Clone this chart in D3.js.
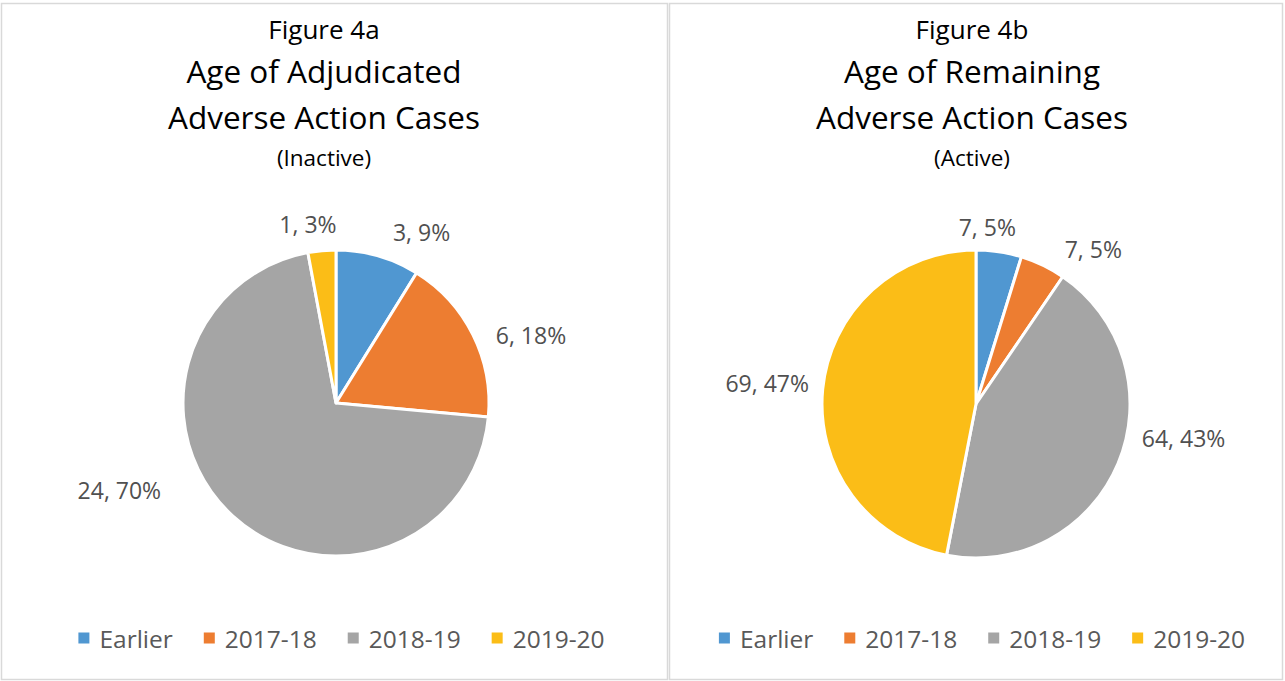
<!DOCTYPE html>
<html>
<head>
<meta charset="utf-8">
<script src="https://cdn.jsdelivr.net/npm/d3@7"></script>
<style>
  body { margin: 0; background: #fff; }
  svg text { font-family: "Open Sans", sans-serif; }
</style>
</head>
<body>
<div class="chart"></div>
<script>
// Chart data
var categories = ["Earlier", "2017-18", "2018-19", "2019-20"];
var colors = ["#5097D1", "#ED7D31", "#A5A5A5", "#FBBD17"];

var figA = {
  fig: "Figure 4a",
  title: ["Age of Adjudicated", "Adverse Action Cases"],
  sub: "(Inactive)",
  values: [3, 6, 24, 1]
};
var figB = {
  fig: "Figure 4b",
  title: ["Age of Remaining", "Adverse Action Cases"],
  sub: "(Active)",
  values: [7, 7, 64, 69]
};

// label nudges (layout only)
var nudgeA = [[32, 0], [14, 11], [-76, -45], [-10, -2]];
var nudgeB = [[-18, 0], [32, 6], [14, -35], [0, -4]];

// Excel-style percentages: largest remainder so they add to 100
function percents(values) {
  var total = d3.sum(values);
  var raw = values.map(v => v / total * 100);
  var out = raw.map(Math.floor);
  var left = 100 - d3.sum(out);
  var order = d3.range(values.length).sort((a, b) => (raw[b] - out[b]) - (raw[a] - out[a]));
  for (var k = 0; k < left; k++) out[order[k]] += 1;
  return out;
}

var svgWidth = 1285;
var svgHeight = 681;

var svg = d3.select(".chart")
            .append("svg")
            .attr("width", svgWidth)
            .attr("height", svgHeight);

var panels = [
  { x: 1, w: 667, cx: 336, cy: 403, r: 153, tx: 324, data: figA, nudge: nudgeA, legX: 341.5 },
  { x: 669, w: 614, cx: 976, cy: 404, r: 154, tx: 972, data: figB, nudge: nudgeB, legX: 982 }
];

panels.forEach(function(p) {
  var g = svg.append("g");

  // panel border
  g.append("rect")
   .attr("x", p.x + 0.5)
   .attr("y", 3.5)
   .attr("width", p.w - 1)
   .attr("height", 676)
   .attr("fill", "#fff")
   .attr("stroke", "#d9d9d9")
   .attr("stroke-width", 1.5);

  // titles
  g.append("text").attr("x", p.tx).attr("y", 39).attr("text-anchor", "middle")
   .style("font-size", "26px").attr("fill", "#000").text(p.data.fig);
  p.data.title.forEach(function(t, i) {
    g.append("text").attr("x", p.tx).attr("y", 83 + i * 46).attr("text-anchor", "middle")
     .style("font-size", "31.5px").attr("fill", "#000").text(t);
  });
  g.append("text").attr("x", p.tx).attr("y", 166).attr("text-anchor", "middle")
   .style("font-size", "22.5px").attr("fill", "#000").text(p.data.sub);

  var pct = percents(p.data.values);
  var pie = d3.pie().sort(null);
  var arcs = pie(p.data.values);
  var arc = d3.arc().innerRadius(0).outerRadius(p.r);

  var pg = g.append("g").attr("transform", `translate(${p.cx}, ${p.cy})`);
  pg.selectAll("path")
    .data(arcs)
    .enter()
    .append("path")
    .attr("d", arc)
    .attr("fill", (d, i) => colors[i])
    .attr("stroke", "#fff")
    .attr("stroke-width", 3)
    .attr("stroke-linejoin", "round");

  // data labels, outside end
  var R = p.r + 14;
  pg.selectAll("text.lbl")
    .data(arcs)
    .enter()
    .append("text")
    .attr("class", "lbl")
    .style("font-size", "23px")
    .attr("fill", "#505050")
    .attr("text-anchor", "middle")
    .attr("dominant-baseline", "central")
    .text((d, i) => d.value + ", " + pct[i] + "%")
    .each(function(d, i) {
      var a = (d.startAngle + d.endAngle) / 2;
      var w = this.getComputedTextLength();
      var h = 22;
      var x = R * Math.sin(a) + Math.sin(a) * w / 2 + p.nudge[i][0];
      var y = -R * Math.cos(a) - Math.cos(a) * h / 2 + p.nudge[i][1];
      d3.select(this).attr("x", x).attr("y", y);
    });

  // legend
  var lg = g.append("g");
  var items = lg.selectAll("g")
    .data(categories)
    .enter()
    .append("g");
  items.append("rect")
    .attr("width", 11).attr("height", 11)
    .attr("y", -5.5)
    .attr("fill", (d, i) => colors[i]);
  items.append("text")
    .attr("x", 21)
    .attr("dominant-baseline", "central")
    .style("font-size", "24.5px")
    .attr("fill", "#595959")
    .text(d => d);
  var gap = 31;
  var xoff = 0;
  items.each(function() {
    d3.select(this).attr("transform", `translate(${xoff}, 0)`);
    xoff += this.getBBox().width + gap;
  });
  xoff -= gap;
  lg.attr("transform", `translate(${p.legX - xoff / 2}, 638)`);
});
</script>
</body>
</html>
